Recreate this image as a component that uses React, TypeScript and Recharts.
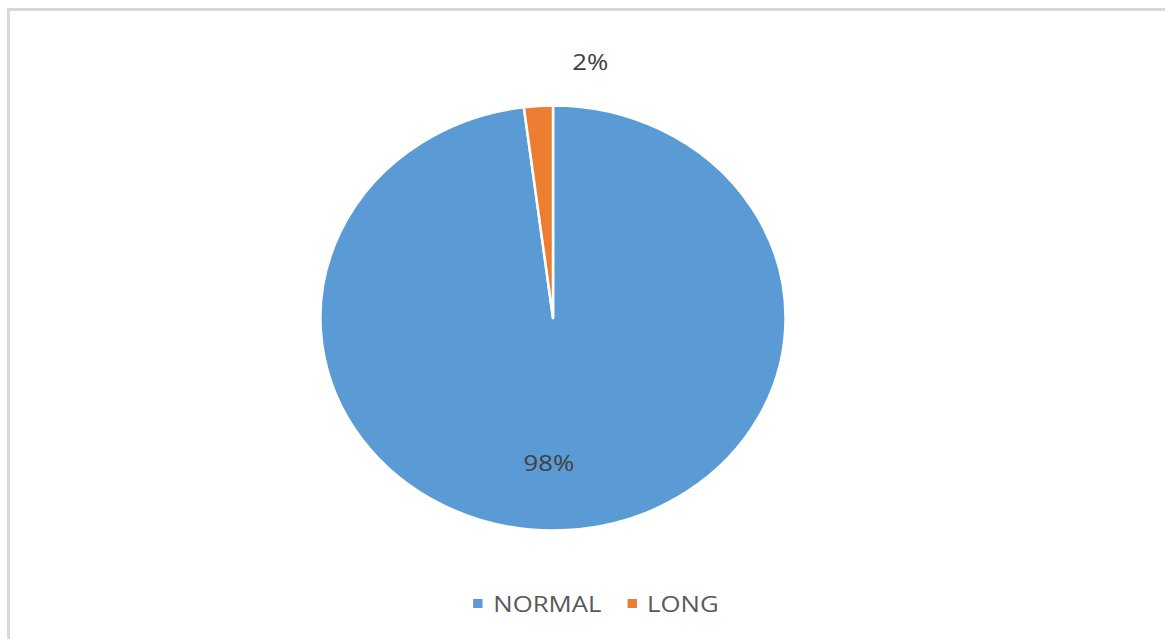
import React from 'react';
import { PieChart, Pie, Cell, Legend } from 'recharts';

const categories = ['NORMAL', 'LONG'];
const values = [98, 2];
const colors = ['#5b9bd5', '#ed7d31'];

const data = categories.map((name, i) => ({ name, value: values[i] }));

// the original is stretched sideways: pie wider than tall, text a bit wide
const STRETCH = 232 / 212;
const TEXT_STRETCH = 1.17;
const RAD = Math.PI / 180;
const FONT = '"Open Sans", "Noto Sans", sans-serif';

const EllipseSector = (props: any) => {
  const { cx, cy, outerRadius, startAngle, endAngle, fill } = props;
  const rx = outerRadius * STRETCH;
  const ry = outerRadius;
  const x0 = cx + rx * Math.cos(startAngle * RAD);
  const y0 = cy - ry * Math.sin(startAngle * RAD);
  const x1 = cx + rx * Math.cos(endAngle * RAD);
  const y1 = cy - ry * Math.sin(endAngle * RAD);
  const large = Math.abs(endAngle - startAngle) > 180 ? 1 : 0;
  const sweep = startAngle > endAngle ? 1 : 0;
  const d = `M${cx},${cy} L${x0},${y0} A${rx},${ry} 0 ${large} ${sweep} ${x1},${y1} Z`;
  return <path d={d} fill={fill} stroke="#ffffff" strokeWidth={2.5} strokeLinejoin="round" />;
};

// label placement tweaks (radius factor + small horizontal nudge), Excel "best fit" style
const labelPos = [
  { k: 0.68, dx: -14 },
  { k: 1.21, dx: 55 },
];

const renderLabel = (props: any) => {
  const { cx, cy, midAngle, outerRadius, percent, index } = props;
  const p = labelPos[index];
  const x = cx + outerRadius * STRETCH * p.k * Math.cos(midAngle * RAD) + p.dx;
  const y = cy - outerRadius * p.k * Math.sin(midAngle * RAD);
  return (
    <text
      x={0}
      y={0}
      transform={`translate(${x},${y}) scale(${TEXT_STRETCH},1)`}
      fill="#404040"
      fontSize={22}
      fontFamily={FONT}
      textAnchor="middle"
      dominantBaseline="central"
    >
      {`${Math.round(percent * 100)}%`}
    </text>
  );
};

const renderLegend = () => (
  <div
    style={{
      display: 'flex',
      justifyContent: 'center',
      alignItems: 'center',
      fontFamily: FONT,
      fontSize: 22,
      color: '#595959',
      transform: `scaleX(${TEXT_STRETCH})`,
      transformOrigin: 'center',
    }}
  >
    {categories.map((c, i) => (
      <div key={c} style={{ display: 'flex', alignItems: 'center', marginRight: i === 0 ? 22 : 0 }}>
        <span style={{ width: 8, height: 9, background: colors[i], marginRight: 9, display: 'inline-block' }} />
        <span>{c}</span>
      </div>
    ))}
  </div>
);

export default function App() {
  return (
    <div
      style={{
        position: 'absolute',
        top: 0,
        left: 0,
        width: 1165,
        height: 639,
        overflow: 'hidden',
        background: '#ffffff',
      }}
    >
      <div
        style={{
          position: 'absolute',
          left: 7,
          top: 8,
          width: 1200,
          height: 700,
          borderLeft: '3px solid #d9d9d9',
          borderTop: '3px solid #d9d9d9',
        }}
      />
      <PieChart
        width={1165}
        height={639}
        margin={{ top: 0, right: 0, bottom: 0, left: 0 }}
        style={{ position: 'absolute', left: 0, top: 0 }}
      >
        <Pie
          data={data}
          dataKey="value"
          nameKey="name"
          cx={553}
          cy={318}
          outerRadius={212.5}
          startAngle={90}
          endAngle={-270}
          isAnimationActive={false}
          labelLine={false}
          label={renderLabel}
          shape={EllipseSector}
          inactiveShape={EllipseSector}
          activeShape={EllipseSector}
        >
          {data.map((d, i) => (
            <Cell key={d.name} fill={colors[i]} />
          ))}
        </Pie>
        <Legend content={renderLegend} wrapperStyle={{ left: 0, top: 588, width: 1192 }} />
      </PieChart>
    </div>
  );
}
